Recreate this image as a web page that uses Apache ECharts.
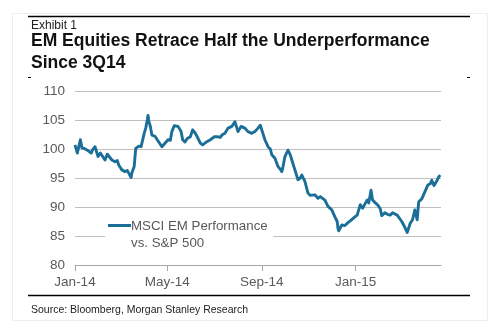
<!DOCTYPE html>
<html>
<head>
<meta charset="utf-8">
<script src="https://cdn.jsdelivr.net/npm/echarts@6/dist/echarts.min.js"></script>
<style>
html,body{margin:0;padding:0;background:#fff;}
#chart{width:498px;height:322px;}
</style>
</head>
<body>
<div id="chart"></div>
<script>
// ---- Data ----
const dates = [
  '2014-01-01','2014-01-04','2014-01-08','2014-01-10','2014-01-13','2014-01-17','2014-01-19','2014-01-22','2014-01-24','2014-01-27',
  '2014-01-31','2014-02-03','2014-02-05','2014-02-09','2014-02-12','2014-02-14','2014-02-18','2014-02-22','2014-02-25','2014-02-27',
  '2014-03-03','2014-03-07','2014-03-10','2014-03-12','2014-03-15','2014-03-16','2014-03-19','2014-03-21','2014-03-25','2014-03-28',
  '2014-03-29','2014-04-01','2014-04-03','2014-04-05','2014-04-06','2014-04-07','2014-04-09','2014-04-11','2014-04-15','2014-04-18',
  '2014-04-20','2014-04-24','2014-04-25','2014-04-28','2014-05-02','2014-05-05','2014-05-07','2014-05-10','2014-05-12','2014-05-15',
  '2014-05-19','2014-05-21','2014-05-24','2014-05-27','2014-05-31','2014-06-03','2014-06-06','2014-06-09','2014-06-13','2014-06-16',
  '2014-06-19','2014-06-22','2014-06-26','2014-07-01','2014-07-03','2014-07-06','2014-07-09','2014-07-11','2014-07-15','2014-07-19',
  '2014-07-24','2014-07-28','2014-07-29','2014-08-01','2014-08-05','2014-08-10','2014-08-14','2014-08-19','2014-08-23','2014-08-27',
  '2014-08-30','2014-09-01','2014-09-04','2014-09-05','2014-09-09','2014-09-12','2014-09-14','2014-09-18','2014-09-22','2014-09-25',
  '2014-09-27','2014-09-28','2014-10-01','2014-10-05','2014-10-08','2014-10-10','2014-10-14','2014-10-18','2014-10-21','2014-10-23',
  '2014-10-27','2014-10-31','2014-11-03','2014-11-05','2014-11-09','2014-11-13','2014-11-16','2014-11-18','2014-11-22','2014-11-26',
  '2014-12-01','2014-12-05','2014-12-08','2014-12-09','2014-12-10','2014-12-14','2014-12-18','2014-12-22','2014-12-25','2014-12-27',
  '2014-12-31','2015-01-03','2015-01-07','2015-01-10','2015-01-13','2015-01-16','2015-01-18','2015-01-21','2015-01-23','2015-01-26',
  '2015-01-30','2015-02-02','2015-02-04','2015-02-08','2015-02-12','2015-02-15','2015-02-18','2015-02-20','2015-02-24','2015-02-25',
  '2015-03-02','2015-03-06','2015-03-09','2015-03-13','2015-03-16','2015-03-19','2015-03-22','2015-03-24','2015-03-28','2015-04-01',
  '2015-04-05','2015-04-08','2015-04-10','2015-04-13','2015-04-17','2015-04-19','2015-04-21'
];
const msciVsSp = [
  100.7, 99.3, 101.6, 100.2, 100.1, 99.8, 100.1, 99.3, 99.9, 100.4,
  98.7, 99.3, 99.0, 98.1, 99.1, 99.0, 98.1, 97.8, 98.0, 97.2,
  96.4, 96.1, 96.3, 95.8, 95.1, 95.9, 97.0, 100.1, 100.5, 100.4,
  101.0, 102.7, 103.6, 105.0, 105.8, 104.8, 103.9, 102.4, 102.2, 101.6,
  101.3, 100.4, 100.2, 101.0, 101.6, 101.5, 103.0, 104.0, 103.8, 103.9,
  103.0, 101.6, 101.2, 101.8, 102.1, 103.3, 102.8, 102.1, 101.0, 100.7,
  101.0, 101.3, 101.6, 102.1, 101.8, 102.1, 102.0, 102.4, 102.7, 103.6,
  103.9, 104.7, 104.5, 103.0, 103.9, 103.6, 103.0, 102.7, 103.0, 103.6,
  104.1, 103.8, 102.0, 101.6, 100.4, 100.0, 99.0, 98.4, 97.0, 96.5,
  96.1, 96.6, 98.7, 99.8, 99.0, 98.1, 96.4, 94.7, 95.0, 95.5,
  94.4, 92.4, 92.0, 92.1, 92.1, 91.5, 91.8, 92.1, 91.2, 90.1,
  89.5, 88.3, 87.5, 86.3, 85.9, 86.9, 86.8, 87.3, 87.6, 87.8,
  88.3, 88.6, 90.4, 89.8, 90.5, 91.2, 90.7, 92.9, 91.2, 90.8,
  90.3, 89.7, 88.5, 89.0, 88.7, 88.6, 89.0, 89.2, 88.6, 88.3,
  87.5, 86.5, 85.6, 87.2, 87.8, 89.5, 87.8, 90.9, 91.4, 92.6,
  93.8, 94.0, 94.6, 93.7, 94.6, 95.2, 95.5
];
const xTickDates = ['2014-01-01', '2014-05-01', '2014-09-01', '2015-01-01'];
const xMinDate = '2014-01-01';
const xMaxDate = '2015-04-22';
const monthNames = ['Jan','Feb','Mar','Apr','May','Jun','Jul','Aug','Sep','Oct','Nov','Dec'];
const seriesName = 'MSCI EM Performance';
const legendLines = ['MSCI EM Performance', 'vs. S&P 500'];
const exhibitLabel = 'Exhibit 1';
const titleLines = ['EM Equities Retrace Half the Underperformance', 'Since 3Q14'];
const sourceText = 'Source: Bloomberg, Morgan Stanley Research';

function toTs(s) { const p = s.split('-').map(Number); return Date.UTC(p[0], p[1] - 1, p[2]); }

const chart = echarts.init(document.getElementById('chart'), null, { renderer: 'canvas' });
const ff = 'Arial, "Liberation Sans", Helvetica, sans-serif';
const tickTs = xTickDates.map(toTs);

const option = {
  backgroundColor: '#ffffff',
  animation: false,
  grid: { left: 75, right: 57, top: 91, bottom: 57, containLabel: false },
  xAxis: {
    type: 'value',
    min: toTs(xMinDate),
    max: toTs(xMaxDate),
    axisLine: { show: true, lineStyle: { color: '#a6a6a6', width: 1 } },
    axisTick: { show: true, length: 6, lineStyle: { color: '#a6a6a6' }, customValues: tickTs },
    axisLabel: {
      customValues: tickTs,
      color: '#595959', fontSize: 13.5, fontFamily: ff, margin: 10,
      formatter: function (v) { const d = new Date(v); return monthNames[d.getUTCMonth()] + '-' + String(d.getUTCFullYear()).slice(2); }
    },
    splitLine: { show: false }
  },
  yAxis: {
    type: 'value', min: 80, max: 110, interval: 5,
    axisLine: { show: false }, axisTick: { show: false },
    axisLabel: { color: '#595959', fontSize: 13.5, fontFamily: ff, margin: 10 },
    splitLine: { show: true, lineStyle: { color: '#bfbfbf', width: 1 } }
  },
  series: [{
    name: seriesName,
    type: 'line',
    data: dates.map((d, i) => [toTs(d), msciVsSp[i]]),
    showSymbol: false,
    symbol: 'none',
    smooth: false,
    lineStyle: { color: '#1b6e98', width: 2.9, join: 'round' },
    itemStyle: { color: '#1b6e98' },
    z: 3
  }],
  graphic: [
    { type: 'rect', shape: { x: 12.5, y: 13.5, width: 475, height: 307 }, style: { fill: 'none', stroke: '#eeeeee', lineWidth: 1 }, z: 0, silent: true },
    { type: 'line', shape: { x1: 28, y1: 16.5, x2: 470, y2: 16.5 }, style: { stroke: '#000', lineWidth: 1.3 }, silent: true },
    { type: 'line', shape: { x1: 28, y1: 77.5, x2: 31, y2: 77.5 }, style: { stroke: '#000', lineWidth: 1 }, silent: true },
    { type: 'line', shape: { x1: 467, y1: 77.5, x2: 470, y2: 77.5 }, style: { stroke: '#000', lineWidth: 1 }, silent: true },
    { type: 'line', shape: { x1: 28, y1: 295.5, x2: 470, y2: 295.5 }, style: { stroke: '#000', lineWidth: 1.3 }, silent: true },
    { type: 'text', left: 31, top: 19.5, style: { text: exhibitLabel, font: '12px ' + ff, fill: '#222' }, silent: true },
    { type: 'text', left: 31, top: 32, style: { text: titleLines[0], font: 'bold 17.5px ' + ff, fill: '#111' }, silent: true },
    { type: 'text', left: 31, top: 54, style: { text: titleLines[1], font: 'bold 17.5px ' + ff, fill: '#111' }, silent: true },
    { type: 'text', left: 31, top: 304.5, style: { text: sourceText, font: '10.5px ' + ff, fill: '#222' }, silent: true },
    // legend
    { type: 'rect', shape: { x: 105, y: 214, width: 168, height: 36 }, style: { fill: '#ffffff' }, z: 10, silent: true },
    { type: 'line', shape: { x1: 108, y1: 225.5, x2: 131, y2: 225.5 }, style: { stroke: '#1b6e98', lineWidth: 3 }, z: 11, silent: true },
    { type: 'text', left: 131, top: 219.5, style: { text: legendLines[0], font: '13.3px ' + ff, fill: '#595959' }, z: 11, silent: true },
    { type: 'text', left: 131, top: 236.5, style: { text: legendLines[1], font: '13.3px ' + ff, fill: '#595959' }, z: 11, silent: true }
  ]
};
chart.setOption(option);
</script>
</body>
</html>
